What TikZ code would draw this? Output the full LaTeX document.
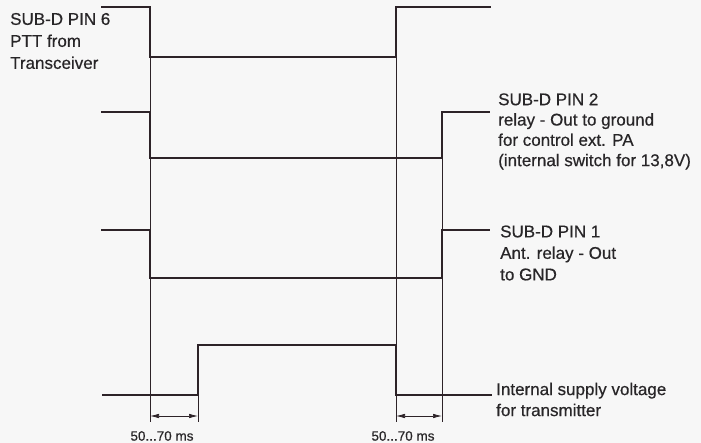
\documentclass[tikz,border=0pt]{standalone}
\usepackage{fontspec}
\setmainfont[FakeBold=0.5]{Liberation Sans}
\usetikzlibrary{arrows.meta}
\definecolor{ink}{RGB}{45,35,40}
\definecolor{txt}{RGB}{40,38,40}
\definecolor{paper}{RGB}{247,247,247}
\begin{document}
\begin{tikzpicture}[x=1pt,y=-1pt,
  sig/.style={ink, line width=2.8pt, line join=miter},
  guide/.style={ink, line width=0.7pt},
  dim/.style={ink, line width=0.7pt, {Latex[length=9pt,width=4.5pt]}-{Latex[length=9pt,width=4.5pt]}},
  lbl/.style={txt, anchor=west, align=left, inner sep=0pt},
  ms/.style={txt, inner sep=0pt, font=\fontsize{13.5}{15}\selectfont}]
\fill[paper] (0,0) rectangle (701,443);
\useasboundingbox (0,0) rectangle (701,443);

% guide lines
\draw[guide] (150,7) -- (150,422);
\draw[guide] (198,345) -- (198,422);
\draw[guide] (396,7) -- (396,422);
\draw[guide] (442,112) -- (442,422);

% signals
\draw[sig] (101,7) -- (150,7) -- (150,57) -- (396,57) -- (396,7) -- (491,7);
\draw[sig] (101,112) -- (150,112) -- (150,158) -- (442,158) -- (442,112) -- (490,112);
\draw[sig] (101,230) -- (150,230) -- (150,278) -- (442,278) -- (442,230) -- (490,230);
\draw[sig] (102,395) -- (198,395) -- (198,345) -- (396,345) -- (396,395) -- (492,395);

% delay arrows
\coordinate (a1) at (150,416);
\coordinate (a2) at (198,416);
\coordinate (a3) at (396,416);
\coordinate (a4) at (442,416);
\draw[dim] (a1) -- (a2);
\draw[dim] (a3) -- (a4);
\node[ms] (d1) at (162,436) {50...70 ms};
\node[ms] (d2) at (403,436) {50...70 ms};

% labels
\node[lbl, font=\fontsize{17}{22}\selectfont] (p6) at (10,41)
  {SUB-D PIN 6\\PTT from\\Transceiver};
\node[lbl, font=\fontsize{17}{20.3}\selectfont] (p2) at (498,131.5)
  {SUB-D PIN 2\\relay - Out to ground\\for control ext. PA\\(internal switch for 13,8V)};
\node[lbl, font=\fontsize{17}{21.5}\selectfont] (p1) at (500,253)
  {SUB-D PIN 1\\Ant. relay - Out\\to GND};
\node[lbl, font=\fontsize{17}{21}\selectfont] (sv) at (496,399.5)
  {Internal supply voltage\\for transmitter};
\end{tikzpicture}
\end{document}
